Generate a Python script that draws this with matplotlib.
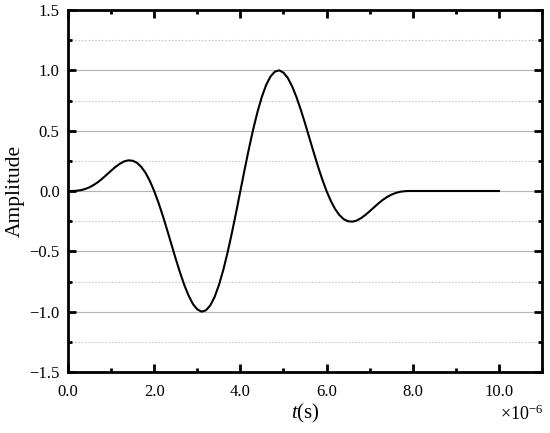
import matplotlib
matplotlib.use("Agg")
import matplotlib.pyplot as plt
from matplotlib.ticker import MultipleLocator

# time in units of 1e-6 s
t_us = [0.0, 0.1, 0.2, 0.3, 0.4, 0.5, 0.6, 0.7, 0.8, 0.9,
        1.0, 1.1, 1.2, 1.3, 1.4, 1.5, 1.6, 1.7, 1.8, 1.9,
        2.0, 2.1, 2.2, 2.3, 2.4, 2.5, 2.6, 2.7, 2.8, 2.9,
        3.0, 3.1, 3.2, 3.3, 3.4, 3.5, 3.6, 3.7, 3.8, 3.9,
        4.0, 4.1, 4.2, 4.3, 4.4, 4.5, 4.6, 4.7, 4.8, 4.9,
        5.0, 5.1, 5.2, 5.3, 5.4, 5.5, 5.6, 5.7, 5.8, 5.9,
        6.0, 6.1, 6.2, 6.3, 6.4, 6.5, 6.6, 6.7, 6.8, 6.9,
        7.0, 7.1, 7.2, 7.3, 7.4, 7.5, 7.6, 7.7, 7.8, 7.9,
        8.0, 9.0, 10.0]
amplitude = [0.000, 0.000, 0.002, 0.007, 0.017, 0.031, 0.051, 0.075, 0.104, 0.136,
             0.168, 0.199, 0.225, 0.245, 0.254, 0.251, 0.234, 0.200, 0.150, 0.083,
             0.000, -0.097, -0.205, -0.322, -0.442, -0.562, -0.676, -0.780, -0.868, -0.937,
             -0.981, -1.000, -0.989, -0.949, -0.880, -0.782, -0.659, -0.515, -0.353, -0.180,
             0.000, 0.180, 0.353, 0.515, 0.659, 0.782, 0.880, 0.949, 0.989, 1.000,
             0.981, 0.937, 0.868, 0.780, 0.676, 0.562, 0.442, 0.322, 0.205, 0.097,
             0.000, -0.083, -0.150, -0.200, -0.234, -0.251, -0.254, -0.245, -0.225, -0.199,
             -0.168, -0.136, -0.104, -0.075, -0.051, -0.031, -0.017, -0.007, -0.002, 0.000,
             0.000, 0.000, 0.000]

x_ticks = [0, 2, 4, 6, 8, 10]
y_ticks = [-1.5, -1.0, -0.5, 0.0, 0.5, 1.0, 1.5]
x_label = "$t$(s)"
y_label = "Amplitude"

plt.rcParams['font.family'] = ['Liberation Serif', 'DejaVu Serif']
plt.rcParams['mathtext.fontset'] = 'custom'
plt.rcParams['mathtext.it'] = 'Liberation Serif:italic'
plt.rcParams['mathtext.rm'] = 'Liberation Serif'

fig = plt.figure(figsize=(5.5, 4.33), dpi=100)
ax = fig.add_axes([68/550, 1-372/433, (542-68)/550, (372-10)/433])

ax.plot(t_us, amplitude, color='black', lw=1.5)

ax.set_xlim(0, 11)
ax.set_ylim(-1.5, 1.5)

def fmt(v):
    s = f"{abs(v):.1f}"
    return ("\u2212" + s) if v < 0 else s

ax.set_xticks(x_ticks)
ax.set_xticklabels([fmt(v) for v in x_ticks])
ax.set_xticks([1, 3, 5, 7, 9, 11], minor=True)
ax.set_yticks(y_ticks)
ax.set_yticklabels([fmt(v) for v in y_ticks])
ax.yaxis.set_minor_locator(MultipleLocator(0.25))

ax.grid(True, which='major', axis='y', color='#b4b4b4', lw=0.8, ls='-')
ax.grid(True, which='minor', axis='y', color='#c8c8c8', lw=0.8, ls=(0, (1.5, 1.5)))
ax.set_axisbelow(True)

for sp in ax.spines.values():
    sp.set_linewidth(2.0)
ax.tick_params(which='both', direction='in', top=True, right=True, width=2.0)
ax.tick_params(which='major', length=6, labelsize=12)
ax.tick_params(axis='x', which='major', pad=9)
ax.tick_params(axis='y', which='major', pad=6)
ax.tick_params(which='minor', length=3)

ax.set_xlabel(x_label, fontsize=15, labelpad=1)
ax.set_ylabel(y_label, fontsize=15.5, labelpad=3)

fig.text(522/550, 1-414/433, r"$\times$10$^{-6}$", fontsize=13, ha='center', va='center')

fig.savefig("out.png", dpi=100)
